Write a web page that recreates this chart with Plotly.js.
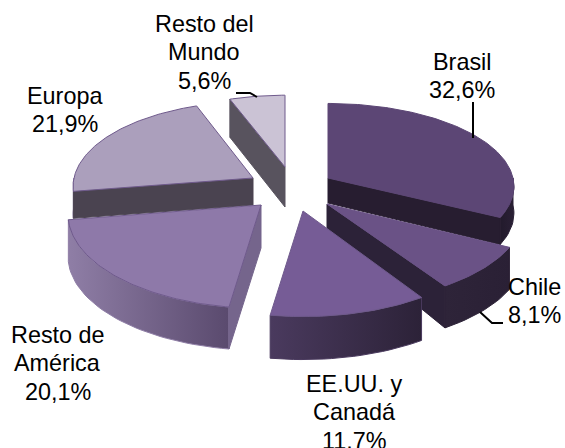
<!DOCTYPE html>
<html><head><meta charset="utf-8">
<script src="https://cdn.plot.ly/plotly-3.0.1.min.js"></script>
<style>html,body{margin:0;padding:0;background:#fff}#c{width:565px;height:448px}</style>
</head><body><div id="c"></div>
<script>
// ---- data ----
const categories = ["Brasil","Chile","EE.UU. y Canadá","Resto de América","Europa","Resto del Mundo"];
const shares = [32.6, 8.1, 11.7, 20.1, 21.9, 5.6];
const labelLines = [["Brasil","32,6%"],["Chile","8,1%"],["EE.UU. y","Canadá","11,7%"],["Resto de","América","20,1%"],["Europa","21,9%"],["Resto del","Mundo","5,6%"]];

// ---- 3D projection settings per slice (exploded position, radii, wall heights) ----
const apexX = [328,327,303,261,253,285];
const apexY = [178,204,211,205,178,167];
const radiusX = [185,196,197,192,179,175];
const radiusY = [82,90,95,93,84,79];
const wallApex = [25,28,40,43,27,40];
const wallRim = [27,42,43,42,27,38];
const perspective = 0.1;
const topColors = ["#5C4675","#6A5286","#765C96","#8E79A9","#AB9FBC","#CBC3D5"];
const edgeColors = ["#5C4675","#6A5286","#6F5A8C","#6F5A8C","#6F5A8C","#6F5A8C"];
const outerFrom = ["#2A2035","#2E2439","#4A3A5E","#8F7EA6","#8F7EA6","#8F7EA6"];
const outerTo = ["#221A2C","#2A2035","#2C2238","#5A4A6E","#5A4A6E","#5A4A6E"];
const cutEnd = ["#271D30","#2C2238",null,null,null,null];
const cutStart = [null,null,null,"#75658C","#4A4350","#58535E"];
const labelCenterX = [462,534.5,354,57.5,65,204];
const labelFirstBaseline = [70,295,392,343,103.5,32];
const labelLineStep = 28.3;
const baselineToMiddle = 8;
const labelFontSize = 23.4;
const drawOrder = [5,4,0,3,1,2];

function rim(i,deg){
  const t=deg*Math.PI/180, s=1/(1+perspective*Math.cos(t));
  return [apexX[i]+radiusX[i]*Math.sin(t)*s, apexY[i]-radiusY[i]*Math.cos(t)*s];
}
function poly(pts,color,edge,extra){
  return Object.assign({type:'scatter',mode:'lines',x:pts.map(p=>p[0]),y:pts.map(p=>p[1]),
    fill:'toself',fillcolor:color,line:{color:edge||color,width:1},hoverinfo:'skip',showlegend:false},extra||{});
}
const total=shares.reduce((a,b)=>a+b,0);
const starts=[];let acc=0;
shares.forEach(v=>{starts.push(acc/total*360);acc+=v;});
const ends=shares.map((v,i)=>starts[i]+v/total*360);

const traces=[];
drawOrder.forEach(i=>{
  const a0=starts[i],a1=ends[i];
  const f0=Math.max(a0,90),f1=Math.min(a1,270);
  if(f1>f0){
    const up=[],down=[];
    for(let d=f0;d<f1;d+=2){up.push(rim(i,d));}
    up.push(rim(i,f1));
    up.forEach(p=>down.push([p[0],p[1]+wallRim[i]]));
    const xs=up.concat(down.slice().reverse());xs.push(up[0]);
    const leftToRight = f0>=180 ? [outerFrom[i],outerTo[i]] : [outerTo[i],outerFrom[i]];
    const col=(a0>=90&&a1<=190)?[outerFrom[i],outerTo[i]]:leftToRight;
    traces.push(poly(xs,outerFrom[i],outerFrom[i],{fillgradient:{type:'horizontal',colorscale:[[0,col[0]],[1,col[1]]]}}));
  }
  const cut=(deg,color)=>{
    const r=rim(i,deg);
    traces.push(poly([[apexX[i],apexY[i]],r,[r[0],r[1]+wallRim[i]],[apexX[i],apexY[i]+wallApex[i]],[apexX[i],apexY[i]]],color,color));
  };
  if(cutStart[i])cut(a0,cutStart[i]);
  if(cutEnd[i])cut(a1,cutEnd[i]);
  const top=[[apexX[i],apexY[i]]];
  for(let d=a0;d<a1;d+=1)top.push(rim(i,d));
  top.push(rim(i,a1));top.push([apexX[i],apexY[i]]);
  traces.push(poly(top,topColors[i],edgeColors[i]));
});
const leaderLines=[
  {x:[473,473],y:[102,138]},
  {x:[480,492,503],y:[312,323,323]},
  {x:[236,250,257],y:[93,93,97]}
];
leaderLines.forEach(l=>traces.push({type:'scatter',mode:'lines',x:l.x,y:l.y,line:{color:'#000',width:2},hoverinfo:'skip',showlegend:false}));

const annotations=[];
labelLines.forEach((lines,i)=>lines.forEach((t,j)=>annotations.push({
  x:labelCenterX[i],y:labelFirstBaseline[i]+j*labelLineStep-baselineToMiddle,xref:'x',yref:'y',text:t,showarrow:false,
  xanchor:'center',yanchor:'middle',align:'center',
  font:{family:'"Liberation Sans",Arial,sans-serif',size:labelFontSize,color:'#000'}})));

Plotly.newPlot('c',traces,{
  width:565,height:448,margin:{l:0,r:0,t:0,b:0},paper_bgcolor:'#fff',plot_bgcolor:'#fff',showlegend:false,
  xaxis:{range:[0,565],visible:false,fixedrange:true},
  yaxis:{range:[448,0],visible:false,fixedrange:true},
  annotations:annotations
},{displayModeBar:false,staticPlot:true});
</script></body></html>
